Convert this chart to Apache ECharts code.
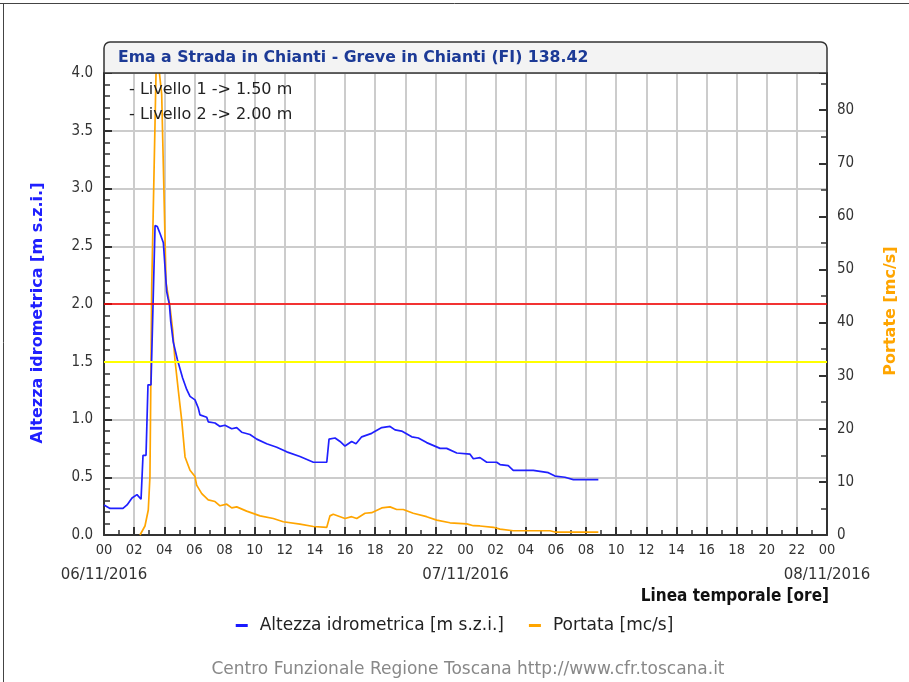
<!DOCTYPE html>
<html>
<head>
<meta charset="utf-8">
<script src="https://cdn.jsdelivr.net/npm/echarts@6/dist/echarts.min.js"></script>
<style>
html,body{margin:0;padding:0;background:#fff;}
#c{width:909px;height:682px;}
</style>
</head>
<body>
<div id="c"></div>
<script>
// ---- data ----
const titleText = 'Ema a Strada in Chianti - Greve in Chianti (FI) 138.42';
const dateLabels = ['06/11/2016', '07/11/2016', '08/11/2016'];
const levelName = 'Altezza idrometrica [m s.z.i.]';
const flowName = 'Portata [mc/s]';
const thresholdNames = ['Livello 1', 'Livello 2'];
const thresholdValues = [1.50, 2.00];

const levelHours = [0, 0.40, 1.26, 1.53, 1.86, 2.19, 2.46, 2.59, 2.79, 2.92, 3.12, 3.39, 3.54, 3.72, 3.83, 3.94,
  4.16, 4.25, 4.34, 4.43, 4.60, 4.87, 5.22, 5.49, 5.71, 6.04, 6.26, 6.37, 6.82, 6.92, 7.37, 7.70, 8.03, 8.48, 8.81,
  9.14, 9.69, 10.14, 10.80, 11.47, 12.13, 13.01, 13.90, 14.79, 14.94, 15.34, 15.67, 16.00, 16.44, 16.73, 17.11,
  17.77, 18.44, 18.99, 19.32, 19.76, 20.43, 20.87, 21.42, 22.31, 22.75, 23.42, 24.30, 24.52, 24.96, 25.41, 26.07,
  26.29, 26.84, 27.17, 28.50, 29.50, 29.94, 30.60, 31.16, 32.82];
const levelValues = [0.26, 0.23, 0.23, 0.26, 0.32, 0.35, 0.31, 0.69, 0.69, 1.30, 1.30, 2.68, 2.67, 2.61, 2.61, 2.53,
  2.11, 2.05, 2.00, 1.85, 1.67, 1.52, 1.36, 1.26, 1.20, 1.17, 1.10, 1.04, 1.02, 0.98, 0.97, 0.94, 0.95, 0.92, 0.93,
  0.89, 0.87, 0.83, 0.79, 0.76, 0.72, 0.68, 0.63, 0.63, 0.83, 0.84, 0.81, 0.77, 0.81, 0.79, 0.85,
  0.88, 0.93, 0.94, 0.91, 0.90, 0.85, 0.84, 0.80, 0.75, 0.75, 0.71, 0.70, 0.66, 0.67, 0.63, 0.63,
  0.61, 0.60, 0.56, 0.56, 0.54, 0.51, 0.50, 0.48, 0.48];

const flowHours = [2.39, 2.72, 2.94, 3.05, 3.17, 3.49, 3.83, 4.12, 4.38, 4.56, 4.71, 4.93, 5.16, 5.38, 5.71, 6.04,
  6.15, 6.49, 6.92, 7.37, 7.70, 8.15, 8.48, 8.81, 9.47, 10.36, 11.24, 11.90, 13.01, 13.90, 14.79, 15.00, 15.22,
  16.00, 16.44, 16.78, 17.33, 17.77, 18.44, 18.99, 19.43, 19.87, 20.53, 21.42, 22.09, 22.97, 24.08, 24.52, 24.96,
  25.85, 26.29, 27.17, 29.61, 29.94, 32.82];
const flowValues = [0, 1.7, 4.7, 11, 47, 92, 83, 47.5, 43, 38.6, 33, 27.3, 21.6, 14.7, 12.2, 11,
  9.4, 7.8, 6.6, 6.3, 5.5, 5.8, 5.1, 5.3, 4.5, 3.6, 3.1, 2.5, 2.05, 1.6, 1.45, 3.6, 3.9,
  3.1, 3.45, 3.1, 4.1, 4.2, 5.1, 5.3, 4.8, 4.8, 4.1, 3.45, 2.8, 2.3, 2.1, 1.75, 1.7,
  1.45, 1.1, 0.8, 0.8, 0.56, 0.56];

// ---- chart ----
const FONT = "'DejaVu Sans Condensed', 'DejaVu Sans', sans-serif";
const WFONT = "'DejaVu Sans', sans-serif";
const chart = echarts.init(document.getElementById('c'), null, {renderer: 'canvas'});
const levelData = levelHours.map((h, i) => [h, levelValues[i]]);
const flowData = flowHours.map((h, i) => [h, flowValues[i]]);

const axisLineStyle = {color: '#333', width: 2};
const labelStyle = {color: '#333', fontSize: 15, fontFamily: FONT};

chart.setOption({
  animation: false,
  backgroundColor: '#fff',
  textStyle: {fontFamily: FONT},
  grid: {left: 104, right: 82, top: 73, bottom: 147, containLabel: false},
  legend: {
    top: 612, left: 'center',
    icon: 'rect', itemWidth: 12, itemHeight: 3, itemGap: 25,
    textStyle: {color: '#222', fontSize: 17, fontFamily: WFONT, padding: [0, 0, 0, 7]},
    data: [levelName, flowName]
  },
  xAxis: [{
    type: 'value', min: 0, max: 48, interval: 2, position: 'bottom',
    axisLine: {show: true, onZero: false, lineStyle: axisLineStyle},
    axisTick: {show: true, inside: true, length: 8, lineStyle: {color: '#333', width: 2}},
    minorTick: {show: true, splitNumber: 2, length: 5, lineStyle: {color: '#333', width: 1.5}},
    splitLine: {show: true, lineStyle: {color: '#cccccc', width: 2}},
    axisLabel: {
      ...labelStyle, fontSize: 14.5, margin: 8,
      showMinLabel: true, showMaxLabel: true,
      formatter: v => String(v % 24).padStart(2, '0')
    }
  }, {
    type: 'value', min: 0, max: 48, interval: 24, position: 'bottom', offset: 0,
    axisLine: {show: false, onZero: false}, axisTick: {show: false}, splitLine: {show: false},
    axisLabel: {
      ...labelStyle, fontSize: 15, fontFamily: WFONT, margin: 33,
      showMinLabel: true, showMaxLabel: true,
      formatter: v => dateLabels[Math.round(v / 24)]
    }
  }],
  yAxis: [{
    type: 'value', min: 0, max: 4, interval: 0.5, position: 'left',
    name: 'Altezza idrometrica [m s.z.i.]', nameLocation: 'middle', nameGap: 58, nameRotate: 90,
    nameTextStyle: {color: '#2020ff', fontWeight: 'bold', fontSize: 16, fontFamily: WFONT, padding: [0, 18, 0, 0]},
    axisLine: {show: true, onZero: false, lineStyle: axisLineStyle},
    axisTick: {show: true, inside: true, length: 8, lineStyle: {color: '#333', width: 2}},
    minorTick: {show: true, splitNumber: 5, length: 6, lineStyle: {color: '#333', width: 1.5}},
    splitLine: {show: true, lineStyle: {color: '#cccccc', width: 2}},
    axisLabel: {...labelStyle, margin: 11, formatter: v => v.toFixed(1)}
  }, {
    type: 'value', min: 0, max: 87, interval: 10, position: 'right',
    name: 'Portate [mc/s]', nameLocation: 'middle', nameGap: 56, nameRotate: 90,
    nameTextStyle: {color: '#ffa500', fontWeight: 'bold', fontSize: 16, fontFamily: WFONT, padding: [0, 14, 0, 0]},
    axisLine: {show: true, onZero: false, lineStyle: axisLineStyle},
    axisTick: {show: true, inside: true, length: 8, lineStyle: {color: '#333', width: 2}},
    minorTick: {show: true, splitNumber: 2, length: 6, lineStyle: {color: '#333', width: 1.5}},
    splitLine: {show: false},
    axisLabel: {...labelStyle, margin: 10, showMaxLabel: false, formatter: v => (v % 10 === 0 ? String(v) : '')}
  }],
  series: [{
    name: levelName, type: 'line', xAxisIndex: 0, yAxisIndex: 0, data: levelData,
    showSymbol: false, symbol: 'none', clip: true,
    lineStyle: {color: '#2020ff', width: 1.7},
    itemStyle: {color: '#1a1aff'},
    z: 4,
    markLine: {
      silent: true, symbol: 'none', label: {show: false},
      data: [
        {yAxis: thresholdValues[0], lineStyle: {color: '#ffff00', width: 2, type: 'solid'}},
        {yAxis: thresholdValues[1], lineStyle: {color: '#ff0000', width: 1.5, type: 'solid'}}
      ]
    }
  }, {
    name: flowName, type: 'line', xAxisIndex: 0, yAxisIndex: 1, data: flowData,
    showSymbol: false, symbol: 'none', clip: true,
    lineStyle: {color: '#ffa500', width: 1.7},
    itemStyle: {color: '#ffa500'},
    z: 3
  }],
  graphic: [
    {type: 'line', shape: {x1: 0, y1: 3.5, x2: 909, y2: 3.5}, style: {stroke: '#444', lineWidth: 1}, silent: true},
    {type: 'line', shape: {x1: 3.5, y1: 3, x2: 3.5, y2: 682}, style: {stroke: '#444', lineWidth: 1}, silent: true},
    {type: 'rect', shape: {x: 104, y: 42, width: 723, height: 31, r: [6, 6, 0, 0]},
      style: {fill: '#f3f3f3', stroke: '#333', lineWidth: 1.5}, z: 10, silent: true},
    {type: 'text', x: 118, y: 58, z: 11, silent: true,
      style: {text: titleText, fill: '#1c3a96', font: "bold 15.7px " + WFONT, verticalAlign: 'middle', align: 'left'}},
    {type: 'text', x: 124, y: 90, z: 11, silent: true,
      style: {text: ' - ' + thresholdNames[0] + ' -> ' + thresholdValues[0].toFixed(2) + ' m', fill: '#222', font: "16px " + WFONT, verticalAlign: 'middle'}},
    {type: 'text', x: 124, y: 115, z: 11, silent: true,
      style: {text: ' - ' + thresholdNames[1] + ' -> ' + thresholdValues[1].toFixed(2) + ' m', fill: '#222', font: "16px " + WFONT, verticalAlign: 'middle'}},
    {type: 'text', x: 829, y: 597, z: 11, silent: true,
      style: {text: 'Linea temporale [ore]', fill: '#111', font: "bold 17px " + FONT, verticalAlign: 'middle', align: 'right'}},
    {type: 'text', x: 468, y: 670, z: 11, silent: true,
      style: {text: 'Centro Funzionale Regione Toscana http://www.cfr.toscana.it', fill: '#888', font: "17px " + WFONT, verticalAlign: 'middle', align: 'center'}}
  ]
});
</script>
</body>
</html>
